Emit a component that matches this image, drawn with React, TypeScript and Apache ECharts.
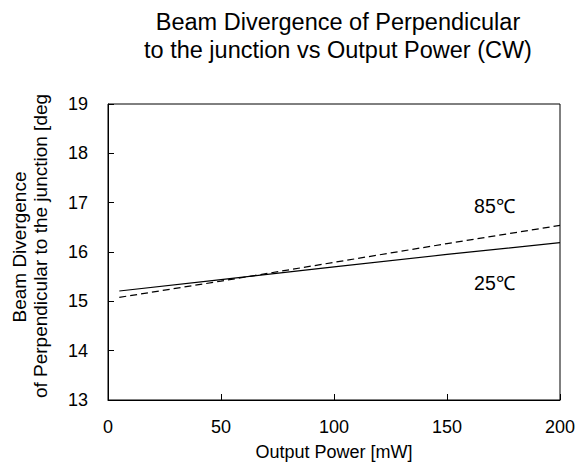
import React, { useEffect, useRef } from "react";
import * as echarts from "echarts";

const powerMW = [5, 50, 100, 150, 200];
const div25C = [15.21, 15.44, 15.7, 15.95, 16.19];
const div85C = [15.08, 15.41, 15.79, 16.17, 16.54];
const xTicks = [0, 50, 100, 150, 200];
const yTicks = [13, 14, 15, 16, 17, 18, 19];
const titleLines = ["Beam Divergence of Perpendicular", "to the junction vs Output Power (CW)"];
const yNameLines = ["Beam Divergence", "of Perpendicular to the junction [deg"];
const xName = "Output Power [mW]";
const label85 = { text: "85℃", x: 171, y: 16.93 };
const label25 = { text: "25℃", x: 171, y: 15.38 };

const FONT = "'Liberation Sans', Arial, Helvetica, sans-serif";

export default function App() {
  const ref = useRef<HTMLDivElement>(null);
  useEffect(() => {
    if (!ref.current) return;
    const chart = echarts.init(ref.current, undefined, { renderer: "svg" });
    const mk = (l: { text: string; x: number; y: number }) => ({
      coord: [l.x, l.y],
      symbol: "circle",
      symbolSize: 1,
      itemStyle: { color: "rgba(0,0,0,0)" },
      label: {
        show: true,
        position: "inside",
        formatter: l.text,
        color: "#000",
        fontSize: 19.5,
        fontFamily: FONT,
      },
    });
    chart.setOption({
      animation: false,
      backgroundColor: "#fff",
      grid: {
        left: 108,
        right: 24,
        top: 104,
        bottom: 72,
        show: true,
        borderColor: "#000",
        borderWidth: 1,
        containLabel: false,
      },
      xAxis: {
        type: "value",
        min: xTicks[0],
        max: xTicks[xTicks.length - 1],
        interval: 50,
        axisLine: { show: true, lineStyle: { color: "#000", width: 1 } },
        axisTick: { show: true, inside: true, length: 6, lineStyle: { color: "#000" } },
        axisLabel: { color: "#000", fontSize: 18, fontFamily: FONT, margin: 18 },
        splitLine: { show: false },
      },
      yAxis: {
        type: "value",
        min: yTicks[0],
        max: yTicks[yTicks.length - 1],
        interval: 1,
        axisLine: { show: true, lineStyle: { color: "#000", width: 1 } },
        axisTick: { show: true, inside: true, length: 6, lineStyle: { color: "#000" } },
        axisLabel: { color: "#000", fontSize: 18, fontFamily: FONT, margin: 20 },
        splitLine: { show: false },
      },
      series: [
        {
          name: "25℃",
          type: "line",
          data: powerMW.map((x, i) => [x, div25C[i]]),
          showSymbol: false,
          smooth: false,
          lineStyle: { color: "#000", width: 1.2, type: "solid" },
          markPoint: { data: [mk(label25)], animation: false },
        },
        {
          name: "85℃",
          type: "line",
          data: powerMW.map((x, i) => [x, div85C[i]]),
          showSymbol: false,
          smooth: false,
          lineStyle: { color: "#000", width: 1.2, type: [7, 4] },
          markPoint: { data: [mk(label85)], animation: false },
        },
      ],
      graphic: [
        {
          type: "text",
          x: 338,
          y: 22,
          style: {
            text: titleLines[0],
            fill: "#000",
            font: `23.5px ${FONT}`,
            textAlign: "center",
            textVerticalAlign: "middle",
          },
        },
        {
          type: "text",
          x: 338,
          y: 50,
          style: {
            text: titleLines[1],
            fill: "#000",
            font: `23.5px ${FONT}`,
            textAlign: "center",
            textVerticalAlign: "middle",
          },
        },
        {
          type: "text",
          x: 19,
          y: 247,
          rotation: Math.PI / 2,
          style: {
            text: yNameLines[0],
            fill: "#000",
            font: `19px ${FONT}`,
            textAlign: "center",
            textVerticalAlign: "middle",
          },
        },
        {
          type: "text",
          x: 40,
          y: 246,
          rotation: Math.PI / 2,
          style: {
            text: yNameLines[1],
            fill: "#000",
            font: `19px ${FONT}`,
            textAlign: "center",
            textVerticalAlign: "middle",
          },
        },
        {
          type: "text",
          x: 334,
          y: 452,
          style: {
            text: xName,
            fill: "#000",
            font: `18px ${FONT}`,
            textAlign: "center",
            textVerticalAlign: "middle",
          },
        },
      ],
    });
    return () => chart.dispose();
  }, []);
  return <div ref={ref} style={{ width: 584, height: 472, position: "absolute", left: 0, top: 0 }} />;
}
